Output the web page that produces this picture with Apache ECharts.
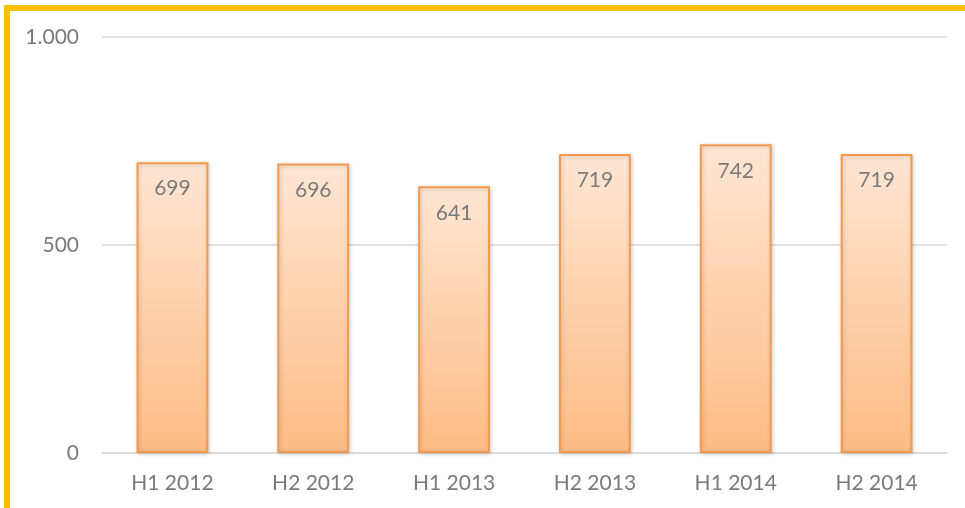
<!DOCTYPE html>
<html>
<head>
<meta charset="utf-8">
<script src="https://cdn.jsdelivr.net/npm/echarts@6/dist/echarts.min.js"></script>
<style>
  html, body { margin: 0; padding: 0; background: #fff; }
  #frame {
    position: absolute; left: 4px; top: 5px; width: 961px; height: 503px;
    border-top: 6px solid #ffc000; border-left: 6px solid #ffc000;
  }
  #main { position: absolute; left: 0; top: 0; width: 965px; height: 508px; }
</style>
</head>
<body>
<div id="frame"></div>
<div id="main"></div>
<script>
// categories and values
var halves = ['H1 2012', 'H2 2012', 'H1 2013', 'H2 2013', 'H1 2014', 'H2 2014'];
var amounts = [699, 696, 641, 719, 742, 719];
var yTicks = [0, 500, 1000];

var chart = echarts.init(document.getElementById('main'));

var option = {
  animation: false,
  grid: { left: 102, right: 18, top: 37, bottom: 55 },
  xAxis: {
    type: 'category',
    data: halves,
    axisLine: { lineStyle: { color: '#d9d9d9', width: 1.5 } },
    axisTick: { show: false },
    axisLabel: { color: '#7a7a7a', fontSize: 21, fontFamily: 'Lato', margin: 20 }
  },
  yAxis: {
    type: 'value',
    min: 0,
    max: 1000,
    interval: 500,
    axisLine: { show: false },
    axisTick: { show: false },
    splitLine: { lineStyle: { color: '#d9d9d9', width: 1.5 } },
    axisLabel: {
      color: '#7a7a7a', fontSize: 21, fontFamily: 'Lato', margin: 23,
      formatter: function (v) {
        // keep the dotted thousands separator from the picture
        return yTicks.indexOf(v) < 0 ? '' : (v >= 1000 ? '1.000' : String(v));
      }
    }
  },
  series: [{
    type: 'bar',
    data: amounts,
    barWidth: '51%',
    itemStyle: {
      color: new echarts.graphic.LinearGradient(0, 0, 0, 1, [
        { offset: 0, color: '#fee6d4' },
        { offset: 1, color: '#fdbc85' }
      ]),
      borderColor: '#f29a4f',
      borderWidth: 2,
      shadowColor: 'rgba(0,0,0,0.18)',
      shadowBlur: 4,
      shadowOffsetX: 1,
      shadowOffsetY: 1
    },
    label: {
      show: true,
      position: 'insideTop',
      distance: 16,
      color: '#7a7a7a',
      fontSize: 21,
      fontFamily: 'Lato'
    }
  }]
};

chart.setOption(option);
</script>
</body>
</html>
